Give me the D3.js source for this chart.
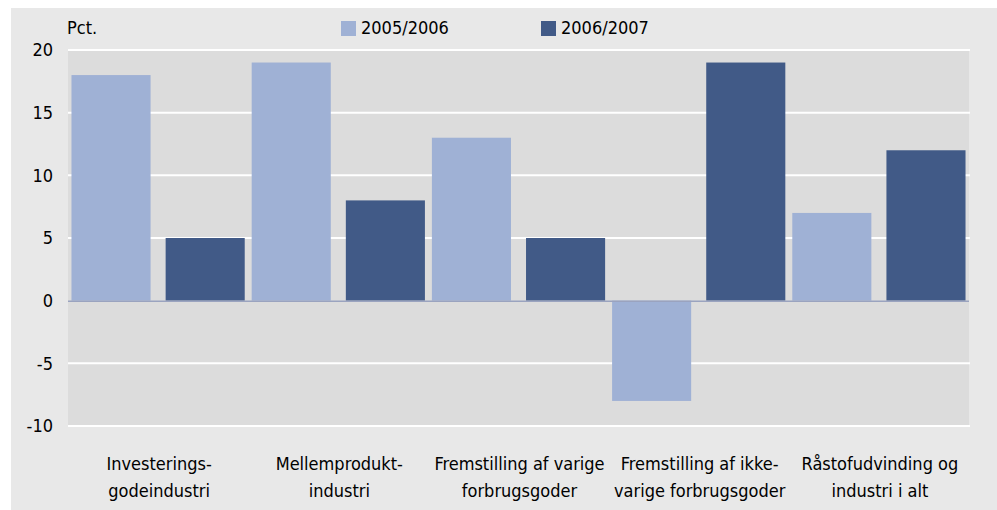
<!DOCTYPE html>
<html>
<head>
<meta charset="utf-8">
<script src="https://cdn.jsdelivr.net/npm/d3@7"></script>
<style>
  html, body { margin: 0; padding: 0; background: #fff; }
  svg text { font-family: "Liberation Sans Narrow", "DejaVu Sans Condensed", "Liberation Sans", sans-serif; fill: #000; }
</style>
</head>
<body>
<div id="chart-container"></div>
<script>
const categories = [
    ["Investerings-", "godeindustri"],
    ["Mellemprodukt-", "industri"],
    ["Fremstilling af varige", "forbrugsgoder"],
    ["Fremstilling af ikke-", "varige forbrugsgoder"],
    ["Råstofudvinding og", "industri i alt"]
];
const seriesNames = ["2005/2006", "2006/2007"];
const values2005 = [18, 19, 13, -8, 7];
const values2006 = [5, 8, 5, 19, 12];
const yTicks = [-10, -5, 0, 5, 10, 15, 20];
const colors = ["#9fb1d5", "#415a87"];

const W = 997, H = 510;
const plot = { left: 68, right: 969, top: 50, bottom: 426 };
const fontSize = 18;

const svg = d3.select("#chart-container").append("svg")
    .attr("width", W).attr("height", H);

// outer panel
svg.append("rect").attr("x", 11).attr("y", 8).attr("width", W - 11).attr("height", H - 8)
    .attr("fill", "#e8e8e8");

const x0 = d3.scaleBand().domain(d3.range(categories.length))
    .range([plot.left, plot.right]).paddingInner(0).paddingOuter(0);
const x1 = d3.scaleBand().domain(seriesNames)
    .range([0, x0.bandwidth()]).paddingInner(0.16).paddingOuter(0.037);
const y = d3.scaleLinear().domain([-10, 20]).range([plot.bottom, plot.top]);

// plot background
svg.append("rect").attr("x", plot.left).attr("y", plot.top)
    .attr("width", plot.right - plot.left).attr("height", plot.bottom - plot.top)
    .attr("fill", "#dcdcdc");

// gridlines
svg.append("g").selectAll("line").data(yTicks.filter(d => d !== 0)).enter().append("line")
    .attr("x1", plot.left).attr("x2", plot.right + 1)
    .attr("y1", d => y(d)).attr("y2", d => y(d))
    .attr("stroke", "#fff").attr("stroke-width", 2);

// bars
const rows = categories.map((c, i) => ({ i, vals: [values2005[i], values2006[i]] }));
const groups = svg.append("g").selectAll("g").data(rows).enter().append("g")
    .attr("transform", d => `translate(${x0(d.i)},0)`);
groups.selectAll("rect")
    .data(d => d.vals.map((v, k) => ({ key: seriesNames[k], v, k })))
    .enter().append("rect")
    .attr("x", d => x1(d.key))
    .attr("width", x1.bandwidth())
    .attr("y", d => y(Math.max(0, d.v)))
    .attr("height", d => Math.abs(y(d.v) - y(0)))
    .attr("fill", d => colors[d.k]);

// zero line
svg.append("line").attr("x1", plot.left).attr("x2", plot.right)
    .attr("y1", y(0) + 0.5).attr("y2", y(0) + 0.5)
    .attr("stroke", "#9aa3bf").attr("stroke-width", 1.5);

// y axis labels (plain hyphen for negatives, as in the original)
const yAxis = svg.append("g").attr("transform", `translate(${plot.left - 15},0)`)
    .call(d3.axisLeft(y).tickValues(yTicks).tickSize(0).tickPadding(0)
        .tickFormat(d => String(d)));
yAxis.select(".domain").remove();
yAxis.selectAll("text").attr("font-size", fontSize).attr("fill", "#000")
    .style("font-family", "'Liberation Sans Narrow', 'DejaVu Sans Condensed', sans-serif");

svg.append("text").attr("x", 67).attr("y", 34).attr("font-size", fontSize).text("Pct.");

// category labels
const cx = i => x0(i) + x0.bandwidth() / 2 + 1;
const cat = svg.append("g").selectAll("text").data(categories).enter().append("text")
    .attr("text-anchor", "middle").attr("font-size", fontSize);
cat.append("tspan").attr("x", (d, i) => cx(i)).attr("y", 470).text(d => d[0]);
cat.append("tspan").attr("x", (d, i) => cx(i)).attr("y", 497).text(d => d[1]);

// legend
const legendX = [341, 541];
const legend = svg.append("g").selectAll("g").data(seriesNames).enter().append("g")
    .attr("transform", (d, i) => `translate(${legendX[i]},21)`);
legend.append("rect").attr("width", 15).attr("height", 15).attr("fill", (d, i) => colors[i]);
legend.append("text").attr("x", 20).attr("y", 13).attr("font-size", fontSize).text(d => d);
</script>
</body>
</html>
